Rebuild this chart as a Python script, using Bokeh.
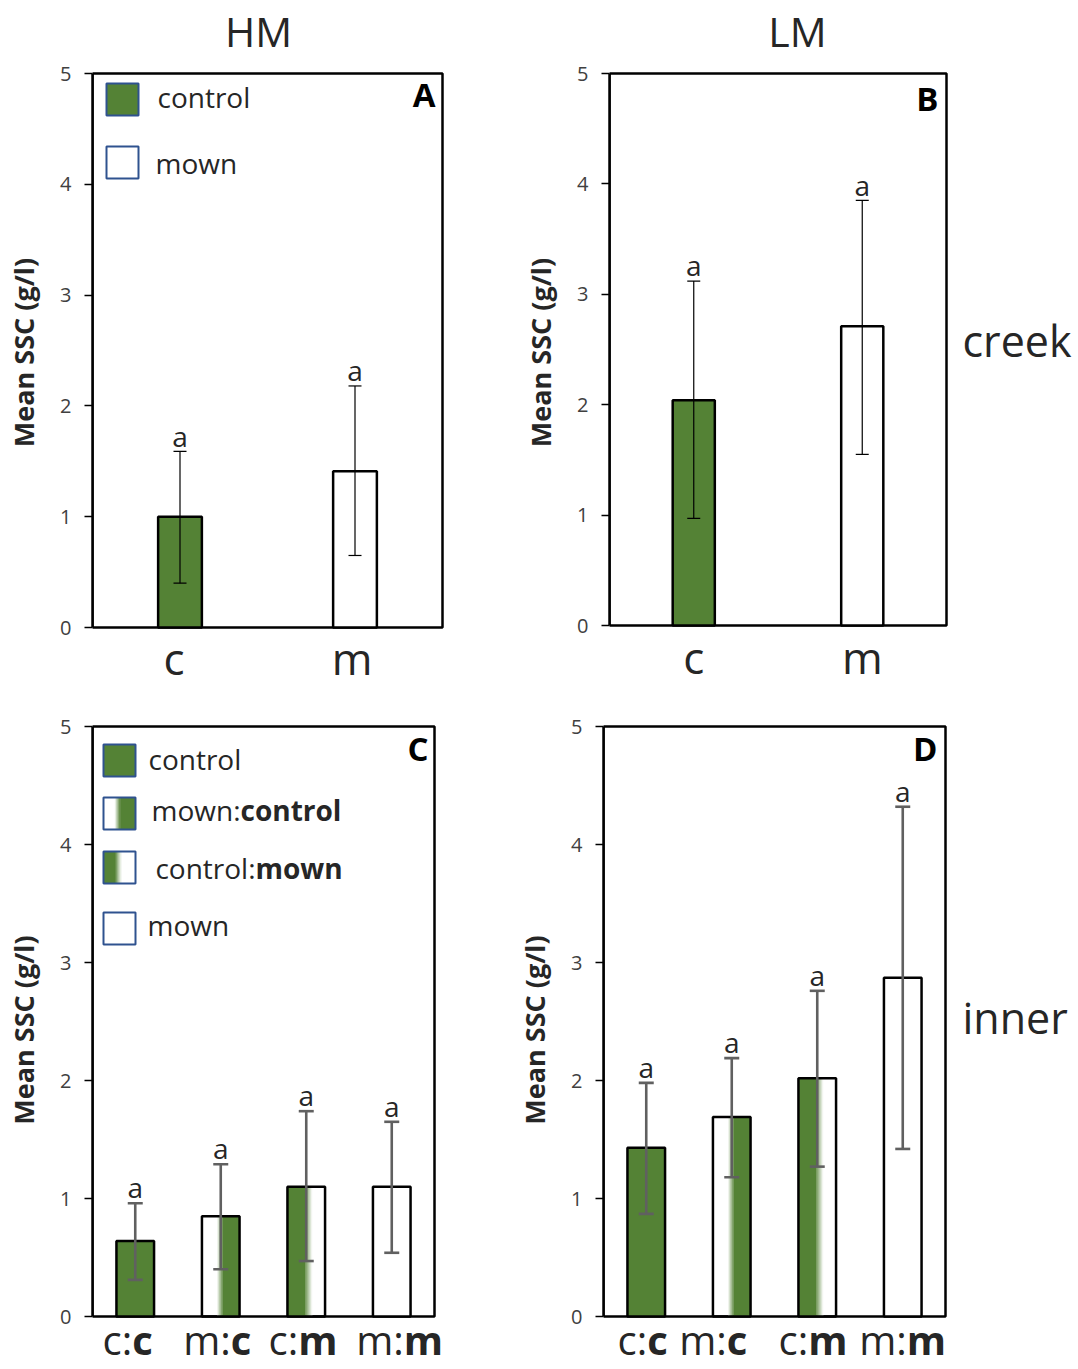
from bokeh.plotting import figure
from bokeh.models import (Range1d, FixedTicker, Whisker, TeeHead, ColumnDataSource,
                          Label, BoxAnnotation)
from bokeh.layouts import row, column
from bokeh.embed import file_html
from bokeh.resources import INLINE

# ---------------- data ----------------
creek_cats = ["c", "m"]
hm_creek_mean = [1.00, 1.41]
hm_creek_lower = [0.40, 0.65]
hm_creek_upper = [1.59, 2.18]
lm_creek_mean = [2.04, 2.71]
lm_creek_lower = [0.97, 1.55]
lm_creek_upper = [3.12, 3.85]
creek_sig = ["a", "a"]

inner_cats_first = ["c:", "m:", "c:", "m:"]
inner_cats_second = ["c", "c", "m", "m"]
hm_inner_mean = [0.64, 0.85, 1.10, 1.10]
hm_inner_lower = [0.31, 0.40, 0.47, 0.54]
hm_inner_upper = [0.96, 1.29, 1.74, 1.65]
lm_inner_mean = [1.43, 1.69, 2.02, 2.87]
lm_inner_lower = [0.87, 1.18, 1.27, 1.42]
lm_inner_upper = [1.98, 2.19, 2.76, 4.32]
inner_sig = ["a", "a", "a", "a"]

y_ticks = [0, 1, 2, 3, 4, 5]
col_titles = ["HM", "LM"]
row_titles = ["creek", "inner"]
panel_letters = ["A", "B", "C", "D"]
legend_first = ["control", "mown:", "control:", "mown"]
legend_second = ["", "control", "mown", ""]

# ---------------- style ----------------
GREEN = "#548235"
BLUE = "#2F528F"
FONT = "Open Sans"
TXT = "#262626"
BASE_K = 0.35  # correction for alphabetic baseline placement
inner_fill = ["green", "white_green", "green_white", "white"]
creek_fill = ["green", "white"]
INFO = {}


def mix(t):
    g = (0x54, 0x82, 0x35)
    c = [int(round(255 + (v - 255) * t)) for v in g]
    return "#%02x%02x%02x" % tuple(c)


def make_fig(n, ox, oy, left, fw, right, top, fh, bottom):
    W = left + fw + right
    H = top + fh + bottom
    p = figure(width=W, height=H,
               x_range=Range1d(-0.5, -0.5 + n * (fw + right) / fw),
               y_range=Range1d(-5.0 * bottom / fh, 5.0 + 5.0 * top / fh),
               output_backend="svg", toolbar_location=None,
               min_border_left=left, min_border_right=0,
               min_border_top=0, min_border_bottom=0)
    p.xaxis.visible = False
    p.xgrid.visible = False
    p.ygrid.visible = False
    p.outline_line_color = None
    p.background_fill_color = "white"
    p.border_fill_color = "white"
    ax = p.yaxis[0]
    ax.bounds = (0, 5)
    ax.ticker = FixedTicker(ticks=y_ticks)
    ax.minor_tick_line_color = None
    ax.major_tick_in = 0
    ax.major_tick_out = 8
    ax.major_tick_line_color = "black"
    ax.major_tick_line_width = 1.5
    ax.axis_line_color = "black"
    ax.axis_line_width = 2.5
    ax.major_label_text_font = FONT
    ax.major_label_text_font_size = "20px"
    ax.major_label_text_color = "#404040"
    ax.major_label_standoff = 13
    ax.axis_label_text_font = FONT
    ax.axis_label_text_font_style = "bold"
    ax.axis_label_text_font_size = "27px"
    ax.axis_label_text_color = TXT
    ax.axis_label_standoff = 15
    # plotting box (frame of the reference chart)
    p.quad(left=[-0.5], right=[n - 0.5], bottom=[0], top=[5], fill_color=None,
           line_color="black", line_width=2.5)
    INFO[p.id] = dict(ox=ox, oy=oy, left=left, H=H, ppu=fh / 5.0)
    return p


def draw_bars(p, means, fills, width):
    idx = list(range(len(means)))
    for i, (m, kind) in enumerate(zip(means, fills)):
        x = idx[i]
        l = x - width / 2
        if kind == "green":
            p.quad(left=l, right=l + width, bottom=0, top=m, fill_color=GREEN, line_color=None)
        elif kind == "white":
            p.quad(left=l, right=l + width, bottom=0, top=m, fill_color="white", line_color=None)
        else:
            if kind == "white_green":
                a, b = 0.40, 0.55
                p.quad(left=l + b * width, right=l + width, bottom=0, top=m,
                       fill_color=GREEN, line_color=None)
                tfun = lambda s: s
            else:
                a, b = 0.47, 0.66
                p.quad(left=l, right=l + a * width, bottom=0, top=m,
                       fill_color=GREEN, line_color=None)
                tfun = lambda s: 1 - s
            N = 14
            ls, rs, cs = [], [], []
            for j in range(N):
                f0 = a + (b - a) * j / N
                f1 = a + (b - a) * (j + 1) / N
                ls.append(l + f0 * width)
                rs.append(l + f1 * width + 0.002)
                cs.append(mix(tfun((j + 0.5) / N)))
            p.quad(left=ls, right=rs, bottom=0, top=m, fill_color=cs, line_color=None)
    p.vbar(x=idx, top=means, width=width, bottom=0, fill_color=None,
           line_color="black", line_width=2.5)


def draw_err(p, lower, upper, color, lw, head):
    src = ColumnDataSource(dict(x=list(range(len(lower))), lower=lower, upper=upper))
    w = Whisker(source=src, base="x", lower="lower", upper="upper", dimension="height",
                line_color=color, line_width=lw, level="overlay",
                upper_head=TeeHead(size=head, line_color=color, line_width=lw),
                lower_head=TeeHead(size=head, line_color=color, line_width=lw))
    p.add_layout(w)


def sig_labels(p, upper, sig, gap, size=28):
    ppu = INFO[p.id]["ppu"]
    for i, (u, s) in enumerate(zip(upper, sig)):
        p.add_layout(Label(x=i, y=u + (gap + BASE_K * size) / ppu, text=s,
                           text_align="center", text_baseline="alphabetic",
                           text_font=FONT, text_font_size="%dpx" % size,
                           text_color=TXT))


def plab(p, X, Y, text, size, align="left", bold=False, color=TXT, data_x=False, xoff=0):
    """X, Y: page position (Y = baseline) unless data_x, then X is a data coordinate."""
    inf = INFO[p.id]
    ys = inf["oy"] + inf["H"] - Y + BASE_K * size
    if data_x:
        x, xu = X, "data"
    else:
        x, xu = X - inf["ox"] - inf["left"], "screen"
    p.add_layout(Label(x=x, y=ys, x_units=xu, y_units="screen", text=text,
                       text_align=align, text_baseline="alphabetic", x_offset=xoff,
                       text_font=FONT, text_font_size="%dpx" % size, text_color=color,
                       text_font_style="bold" if bold else "normal"))


def pbox(p, X0, X1, Y0, Y1, fill=None, line=None, lw=2):
    inf = INFO[p.id]
    l = X0 - inf["ox"] - inf["left"]
    r = X1 - inf["ox"] - inf["left"]
    b = inf["oy"] + inf["H"] - Y1
    t = inf["oy"] + inf["H"] - Y0
    kw = dict(left=l, right=r, bottom=b, top=t, left_units="screen", right_units="screen",
              bottom_units="screen", top_units="screen", level="overlay")
    if fill is not None:
        kw.update(fill_color=fill, fill_alpha=1)
    else:
        kw.update(fill_color=None, fill_alpha=0)
    if line is not None:
        kw.update(line_color=line, line_width=lw, line_alpha=1, line_dash="solid")
    else:
        kw.update(line_color=None, line_alpha=0)
    p.add_layout(BoxAnnotation(**kw))


def legend_icon(p, X0, Y0, size, kind):
    X1, Y1 = X0 + size, Y0 + size
    if kind == "green":
        pbox(p, X0, X1, Y0, Y1, fill=GREEN)
    elif kind == "white":
        pbox(p, X0, X1, Y0, Y1, fill="white")
    else:
        pbox(p, X0, X1, Y0, Y1, fill="white")
        if kind == "white_green":
            a, c = 0.35, 0.52
            pbox(p, X0 + c * size, X1, Y0, Y1, fill=GREEN)
            tf = lambda s: s
        else:
            a, c = 0.36, 0.56
            pbox(p, X0, X0 + a * size, Y0, Y1, fill=GREEN)
            tf = lambda s: 1 - s
        N = 8
        for j in range(N):
            x0 = X0 + (a + (c - a) * j / N) * size
            x1 = X0 + (a + (c - a) * (j + 1) / N) * size + 0.5
            pbox(p, x0, x1, Y0, Y1, fill=mix(tf((j + 0.5) / N)))
    pbox(p, X0, X1, Y0, Y1, line=BLUE, lw=2)


# column split of the page: left column 510 px, right column 568 px
# ---------------- panel A ----------------
pA = make_fig(2, 0, 0, 92, 350, 68, 73, 554, 63)
pA.yaxis.axis_label = "Mean  SSC  (g/l)"
draw_bars(pA, hm_creek_mean, creek_fill, 0.25)
draw_err(pA, hm_creek_lower, hm_creek_upper, "black", 1.2, 13)
sig_labels(pA, hm_creek_upper, creek_sig, 6)
plab(pA, 258, 45, col_titles[0], 41, align="center")
plab(pA, 435, 106, panel_letters[0], 33, align="right", bold=True, color="black")
legend_icon(pA, 106, 83, 32, "green")
legend_icon(pA, 106, 146, 32, "white")
plab(pA, 157, 106, legend_first[0], 28)
plab(pA, 155, 172, legend_first[3], 28)
a_dx = [-6, -3]
for i, c in enumerate(creek_cats):
    plab(pA, i, 673, c, 44, align="center", data_x=True, xoff=a_dx[i])

# ---------------- panel B ----------------
pB = make_fig(2, 510, 0, 99, 337, 132, 73, 552, 65)
pB.yaxis.axis_label = "Mean  SSC  (g/l)"
draw_bars(pB, lm_creek_mean, creek_fill, 0.25)
draw_err(pB, lm_creek_lower, lm_creek_upper, "black", 1.2, 13)
sig_labels(pB, lm_creek_upper, creek_sig, 6)
plab(pB, 797, 45, col_titles[1], 41, align="center")
plab(pB, 938, 110, panel_letters[1], 33, align="right", bold=True, color="black")
plab(pB, 962, 355, row_titles[0], 43)
for i, c in enumerate(creek_cats):
    plab(pB, i, 672, c, 44, align="center", data_x=True)

# ---------------- panel C ----------------
pC = make_fig(4, 0, 690, 92, 342, 76, 36, 590, 53)
pC.yaxis.axis_label = "Mean SSC (g/l)"
draw_bars(pC, hm_inner_mean, inner_fill, 0.44)
draw_err(pC, hm_inner_lower, hm_inner_upper, "#606060", 2.6, 15)
sig_labels(pC, hm_inner_upper, inner_sig, 6)
plab(pC, 428, 760, panel_letters[2], 33, align="right", bold=True, color="black")
legend_icon(pC, 103, 744, 32, "green")
legend_icon(pC, 103, 797, 32, "white_green")
legend_icon(pC, 103, 851, 32, "green_white")
legend_icon(pC, 103, 912, 32, "white")
plab(pC, 148, 768, legend_first[0], 28)
plab(pC, 240, 819, legend_first[1], 28, align="right")
plab(pC, 240, 819, legend_second[1], 28, bold=True)
plab(pC, 255, 877, legend_first[2], 28, align="right")
plab(pC, 255, 877, legend_second[2], 28, bold=True)
plab(pC, 147, 934, legend_first[3], 28)
c_dx = [-3, 10, -8, 12]
for i, (a, b) in enumerate(zip(inner_cats_first, inner_cats_second)):
    plab(pC, i, 1353, a, 40, align="right", data_x=True, xoff=c_dx[i])
    plab(pC, i, 1353, b, 40, align="left", bold=True, data_x=True, xoff=c_dx[i])

# ---------------- panel D ----------------
pD = make_fig(4, 510, 690, 93, 342, 133, 36, 590, 53)
pD.yaxis.axis_label = "Mean SSC (g/l)"
draw_bars(pD, lm_inner_mean, inner_fill, 0.44)
draw_err(pD, lm_inner_lower, lm_inner_upper, "#606060", 2.6, 15)
sig_labels(pD, lm_inner_upper, inner_sig, 6)
plab(pD, 937, 760, panel_letters[3], 33, align="right", bold=True, color="black")
plab(pD, 962, 1032, row_titles[1], 43)
d_dx = [1, -5, -9, 4]
for i, (a, b) in enumerate(zip(inner_cats_first, inner_cats_second)):
    plab(pD, i, 1353, a, 40, align="right", data_x=True, xoff=d_dx[i])
    plab(pD, i, 1353, b, 40, align="left", bold=True, data_x=True, xoff=d_dx[i])

layout = column(row(pA, pB), row(pC, pD))
open("out.html", "w").write(file_html(layout, INLINE))
